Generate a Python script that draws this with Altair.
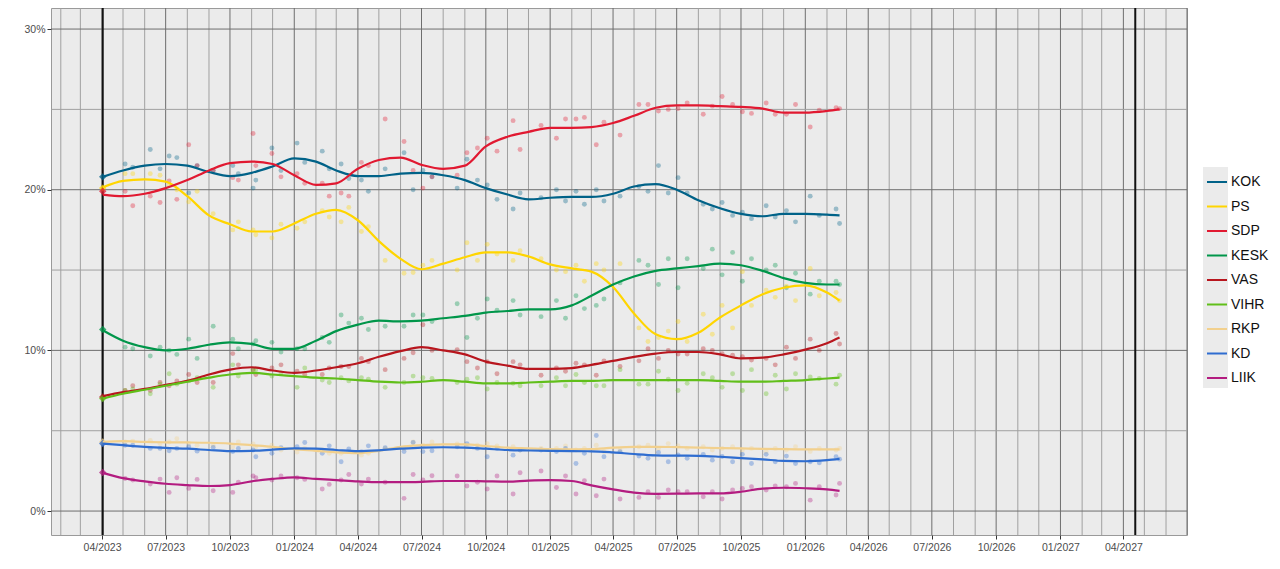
import altair as alt
import pandas as pd

parties = ["KOK", "PS", "SDP", "KESK", "VAS", "VIHR", "RKP", "KD", "LIIK"]
colors = ["#006288", "#ffd500", "#e11931", "#00964a", "#b8161e", "#61bf1a", "#f2d08d", "#2f6dd0", "#b31c80"]

election_dates = ["2023-04-02", "2027-04-18"]
election_result = [20.8, 20.1, 19.9, 11.3, 7.1, 7.0, 4.3, 4.2, 2.4]

poll_dates = [
    "2023-05-04", "2023-05-15", "2023-06-09", "2023-06-23", "2023-07-06", "2023-07-17", "2023-08-03", "2023-08-15",
    "2023-09-07", "2023-10-05", "2023-10-13", "2023-11-03", "2023-11-07", "2023-11-30", "2023-12-13",
    "2024-01-05", "2024-01-16", "2024-02-10", "2024-02-20", "2024-03-08", "2024-03-19", "2024-04-06", "2024-04-16",
    "2024-05-10", "2024-06-06", "2024-06-19", "2024-07-03", "2024-07-16", "2024-08-21", "2024-09-04", "2024-09-19",
    "2024-10-03", "2024-10-17", "2024-11-09", "2024-11-19", "2024-12-19",
    "2025-01-10", "2025-01-23", "2025-02-07", "2025-02-19", "2025-03-08", "2025-03-19", "2025-04-11", "2025-05-08",
    "2025-05-21", "2025-06-05", "2025-06-19", "2025-07-03", "2025-07-16", "2025-08-08", "2025-08-21", "2025-09-04",
    "2025-09-19", "2025-10-03", "2025-10-16", "2025-11-06", "2025-11-19", "2025-12-05", "2025-12-18",
    "2026-01-08", "2026-01-21", "2026-02-14", "2026-02-19",
]

poll_KOK = [21.6, 21.4, 22.5, 21.3, 22.1, 22.0, 19.8, 21.5, 21.2, 21.5, 21.0, 20.1, 20.6, 22.6, 21.2,
            22.9, 21.7, 22.4, 21.3, 21.6, 20.7, 20.6, 19.9, 21.3, 22.3, 20.0, 21.2, 20.8, 20.1, 21.9, 20.6, 20.3, 19.4, 18.8, 19.8, 19.5,
            20.0, 19.3, 19.9, 19.1, 20.0, 19.3, 19.6, 20.2, 19.9, 21.5, 19.8, 20.75, 19.8, 19.1, 18.8, 19.2, 18.4, 18.6, 18.2, 19.0, 18.3, 18.7, 18.0,
            19.6, 18.4, 18.8, 17.9]
poll_SDP = [19.9, 19.0, 19.6, 19.2, 20.55, 19.4, 22.8, 21.5, 21.2, 20.75, 20.6, 23.5, 21.5, 22.25, 20.8,
            21.0, 20.4, 20.4, 19.6, 19.8, 19.6, 21.7, 21.5, 24.4, 23.0, 21.2, 20.1, 20.8, 20.9, 22.3, 22.6, 23.2, 22.4, 24.3, 22.5, 24.0,
            23.2, 24.4, 24.4, 24.5, 22.8, 24.2, 23.4, 25.3, 25.3, 24.9, 25.0, 25.05, 25.4, 24.7, 25.2, 25.8, 25.3, 24.85, 24.75, 25.4, 24.7, 24.7, 25.3,
            23.9, 24.95, 25.1, 25.05]
poll_PS = [21.0, 21.0, 21.0, 20.9, 20.3, 20.0, 19.25, 19.9, 18.5, 17.5, 18.0, 17.5, 17.2, 17.0, 17.85,
           17.6, 18.0, 18.7, 18.3, 18.0, 18.9, 17.4, 17.7, 15.6, 14.8, 14.85, 15.3, 15.6, 15.0, 16.7, 15.6, 16.6, 16.0, 15.6, 16.2, 15.7,
           15.0, 14.9, 15.3, 14.3, 15.4, 15.0, 15.4, 11.4, 10.55, 10.8, 11.2, 11.8, 10.55, 12.25, 11.0, 12.8, 11.4, 14.9, 12.8, 13.75, 13.3, 14.0, 13.1,
           15.1, 13.4, 13.6, 13.1]
poll_KESK = [10.2, 10.1, 9.65, 10.2, 10.0, 9.75, 10.7, 9.5, 11.5, 10.7, 10.1, 10.4, 10.6, 10.5, 9.9,
             10.1, 10.1, 10.8, 10.5, 12.2, 11.7, 12.0, 11.3, 11.5, 11.5, 12.2, 12.2, 11.8, 12.9, 10.8, 12.0, 13.2, 12.5, 13.1, 12.2, 12.1,
             13.1, 12.0, 13.4, 12.6, 12.8, 13.2, 14.2, 15.6, 15.3, 14.1, 15.7, 13.9, 15.7, 15.1, 16.3, 14.7, 16.1, 14.3, 15.7, 15.0, 15.3, 13.9, 14.8,
             13.5, 14.3, 14.3, 14.1]
poll_VAS = [7.5, 7.8, 7.5, 8.0, 7.8, 8.1, 8.5, 8.0, 8.0, 9.8, 9.1, 8.8, 8.5, 8.9, 9.1,
            8.7, 8.5, 8.5, 8.9, 9.0, 9.0, 9.5, 9.3, 8.8, 9.5, 9.85, 11.6, 10.0, 10.05, 9.3, 8.9, 9.3, 8.55, 9.3, 9.1, 8.45,
            8.9, 8.7, 9.2, 9.1, 8.45, 9.35, 9.0, 9.35, 10.1, 9.5, 10.0, 9.77, 9.77, 10.1, 10.0, 9.8, 9.7, 9.6, 9.4, 9.5, 9.1, 10.2, 9.5,
            10.7, 10.0, 11.05, 10.4]
poll_VIHR = [7.5, 7.6, 7.3, 7.9, 8.55, 7.9, 8.1, 8.3, 7.7, 9.1, 8.4, 8.8, 8.8, 8.4, 8.6,
             7.7, 8.9, 8.15, 8.0, 8.3, 8.1, 8.3, 8.2, 7.7, 8.0, 8.4, 8.3, 8.25, 8.0, 8.2, 8.3, 7.6, 8.0, 7.95, 7.8, 7.8,
             8.3, 7.8, 8.5, 8.0, 7.8, 7.8, 8.8, 7.9, 7.9, 8.7, 8.2, 7.5, 7.95, 8.55, 8.3, 7.7, 8.55, 7.5, 8.8, 7.3, 8.45, 7.6, 8.55,
             8.35, 8.25, 7.9, 8.45]
poll_RKP = [4.3, 4.35, 4.4, 4.2, 4.3, 4.5, 4.2, 4.1, 4.1, 4.0, 4.3, 4.17, 4.0, 4.1, 3.8,
            3.67, 3.9, 3.8, 3.6, 3.6, 3.7, 3.48, 3.6, 3.9, 3.9, 4.3, 4.1, 4.3, 4.17, 4.0, 4.1, 4.2, 4.05, 4.0, 3.8, 3.9,
            3.9, 4.06, 3.8, 3.9, 4.1, 3.7, 3.8, 4.0, 4.1, 3.9, 4.2, 4.05, 3.9, 4.0, 3.8, 3.9, 4.0, 3.8, 3.9, 3.7, 3.9, 3.8, 4.0,
            3.7, 3.9, 3.8, 3.9]
poll_KD = [4.1, 4.1, 3.9, 3.9, 3.75, 3.9, 4.0, 3.73, 3.96, 3.7, 3.9, 3.8, 3.38, 3.6, 3.95,
           4.0, 4.27, 3.6, 4.06, 3.07, 3.86, 3.7, 4.06, 3.94, 3.7, 4.27, 3.7, 3.75, 4.0, 4.2, 3.9, 3.38, 3.9, 3.48, 3.8, 3.8,
           3.7, 3.9, 2.96, 3.6, 4.7, 3.38, 3.7, 3.42, 3.28, 3.65, 3.07, 3.5, 3.28, 3.53, 3.17, 3.4, 3.07, 3.53, 2.96, 3.53, 3.07, 3.42, 2.96,
           3.07, 3.0, 3.38, 3.23]
poll_LIIK = [2.03, 1.93, 1.68, 1.99, 1.16, 2.07, 1.41, 1.97, 1.26, 1.16, 1.79, 2.18, 2.07, 1.93, 2.18,
             2.07, 1.97, 1.37, 1.66, 1.93, 2.28, 1.68, 1.99, 1.79, 0.79, 2.28, 1.93, 2.2, 2.18, 1.56, 1.79, 1.37, 2.18, 1.06, 2.38, 2.49,
             1.47, 2.18, 1.06, 1.89, 0.95, 1.99, 0.75, 0.85, 1.2, 0.85, 1.31, 1.2, 1.2, 0.89, 1.2, 0.75, 1.31, 1.4, 1.51, 1.31, 1.56, 1.51, 1.72,
             0.68, 1.51, 1.0, 1.72]

# smoothed trend: election day, first day of each month May 2023 - Feb 2026, last poll day
trend_dates = (["2023-04-02"]
               + [d.strftime("%Y-%m-%d") for d in pd.date_range("2023-05-01", "2026-02-01", freq="MS")]
               + ["2026-02-19"])
trend_KOK = [20.8, 21.2, 21.5, 21.6, 21.5, 21.1, 20.85, 21.05, 21.45,
             21.95, 21.75, 21.2, 20.85, 20.85, 21.0, 21.05, 20.9, 20.6, 20.1, 19.7, 19.4,
             19.5, 19.55, 19.55, 19.75, 20.2, 20.35, 20.0, 19.35, 18.85, 18.5, 18.35, 18.5,
             18.5, 18.45, 18.4]
trend_SDP = [19.7, 19.6, 19.75, 20.1, 20.6, 21.2, 21.65, 21.75, 21.6,
             20.9, 20.3, 20.4, 21.3, 21.85, 22.0, 21.55, 21.3, 21.5, 22.7, 23.3, 23.6,
             23.85, 23.85, 23.9, 24.15, 24.6, 25.1, 25.25, 25.25, 25.2, 25.15, 25.05, 24.8,
             24.8, 24.9, 25.0]
trend_PS = [20.15, 20.55, 20.65, 20.5, 19.6, 18.4, 17.85, 17.4, 17.4,
            17.9, 18.5, 18.75, 18.1, 16.8, 15.7, 15.05, 15.4, 15.8, 16.1, 16.1, 15.85,
            15.35, 15.1, 14.9, 13.95, 12.3, 11.0, 10.7, 11.1, 12.05, 12.8, 13.5, 13.9,
            14.05, 13.6, 13.1]
trend_KESK = [11.25, 10.6, 10.2, 10.0, 10.1, 10.35, 10.5, 10.4, 10.1,
              10.1, 10.6, 11.2, 11.6, 11.85, 11.8, 11.85, 12.0, 12.15, 12.35, 12.45, 12.55,
              12.55, 12.8, 13.4, 14.1, 14.6, 14.95, 15.1, 15.25, 15.4, 15.3, 14.95, 14.5,
              14.2, 14.1, 14.1]
trend_VAS = [7.15, 7.4, 7.6, 7.85, 8.1, 8.5, 8.8, 8.95, 8.75,
             8.6, 8.75, 8.95, 9.2, 9.6, 9.95, 10.2, 10.0, 9.75, 9.3, 9.05, 8.85,
             8.85, 8.9, 9.1, 9.35, 9.6, 9.8, 9.9, 9.9, 9.75, 9.5, 9.55, 9.75,
             10.05, 10.45, 10.8]
trend_VIHR = [7.0, 7.3, 7.55, 7.8, 8.05, 8.3, 8.5, 8.6, 8.5,
              8.4, 8.3, 8.25, 8.15, 8.05, 8.0, 8.05, 8.15, 8.05, 7.95, 7.95, 8.0,
              8.05, 8.1, 8.1, 8.15, 8.15, 8.15, 8.15, 8.15, 8.1, 8.05, 8.05, 8.1,
              8.15, 8.25, 8.3]
trend_RKP = [4.3, 4.35, 4.3, 4.28, 4.27, 4.25, 4.2, 4.1, 4.0,
             3.85, 3.75, 3.65, 3.6, 3.75, 4.0, 4.1, 4.15, 4.15, 4.05, 3.95, 3.9,
             3.85, 3.84, 3.85, 3.95, 4.0, 4.0, 3.98, 3.95, 3.92, 3.9, 3.87, 3.85,
             3.84, 3.84, 3.84]
trend_KD = [4.2, 4.1, 4.0, 3.93, 3.88, 3.8, 3.73, 3.75, 3.82,
            3.9, 3.88, 3.8, 3.73, 3.78, 3.88, 3.95, 3.97, 3.95, 3.88, 3.8, 3.77,
            3.75, 3.73, 3.72, 3.65, 3.55, 3.47, 3.45, 3.44, 3.38, 3.3, 3.22, 3.12,
            3.1, 3.17, 3.25]
trend_LIIK = [2.38, 2.05, 1.85, 1.7, 1.62, 1.56, 1.62, 1.85, 2.0,
              2.1, 2.0, 1.93, 1.85, 1.8, 1.8, 1.82, 1.87, 1.87, 1.85, 1.83, 1.9,
              1.93, 1.87, 1.6, 1.35, 1.15, 1.07, 1.08, 1.1, 1.1, 1.2, 1.4, 1.45,
              1.42, 1.35, 1.26]

polls = {"KOK": poll_KOK, "PS": poll_PS, "SDP": poll_SDP, "KESK": poll_KESK, "VAS": poll_VAS,
         "VIHR": poll_VIHR, "RKP": poll_RKP, "KD": poll_KD, "LIIK": poll_LIIK}
trends = {"KOK": trend_KOK, "PS": trend_PS, "SDP": trend_SDP, "KESK": trend_KESK, "VAS": trend_VAS,
          "VIHR": trend_VIHR, "RKP": trend_RKP, "KD": trend_KD, "LIIK": trend_LIIK}

poll_rows = []
trend_rows = []
for p in parties:
    for d, v in zip(poll_dates, polls[p]):
        poll_rows.append({"date": d, "value": v, "party": p})
    for d, v in zip(trend_dates, trends[p]):
        trend_rows.append({"date": d, "value": v, "party": p})
poll_df = pd.DataFrame(poll_rows)
trend_df = pd.DataFrame(trend_rows)
res_df = pd.DataFrame({"date": election_dates[0], "value": election_result, "party": parties})

months = pd.date_range("2023-02-01", "2027-07-01", freq="MS")
grid_df = pd.DataFrame({"date": [d.strftime("%Y-%m-%d") for d in months],
                        "major": [d.month in (1, 4, 7, 10) for d in months]})
hgrid_df = pd.DataFrame({"v": [0, 5, 10, 15, 20, 25, 30], "major": [True, False, True, False, True, False, True]})
elec_df = pd.DataFrame({"date": election_dates})

W, H = 1136, 527
xscale = alt.Scale(type="utc", domain=[alt.DateTime(year=2023, month=1, date=18, utc=True),
                                       alt.DateTime(year=2027, month=7, date=1, utc=True)], nice=False)
yscale = alt.Scale(domain=[-1.49, 31.31], nice=False, zero=False)
cscale = alt.Scale(domain=parties, range=colors)

quarter_ticks = [alt.DateTime(year=y, month=m, date=1, utc=True)
                 for y in range(2023, 2028) for m in (1, 4, 7, 10)
                 if (y, m) >= (2023, 4) and (y, m) <= (2027, 4)]

xaxis = alt.Axis(values=quarter_ticks, labelExpr="utcFormat(datum.value, '%m/%Y')", title=None, grid=False,
                 domain=False, tickSize=4, tickColor="#333333", labelPadding=3)
yaxis = alt.Axis(values=[0, 10, 20, 30], labelExpr="datum.value + '%'", title=None, grid=False,
                 domain=False, tickSize=4, tickColor="#333333", labelPadding=2)
legend = alt.Legend(title=None, orient="none", legendX=1155, legendY=163,
                    symbolType="stroke", symbolSize=400, symbolStrokeWidth=2, symbolOpacity=1,
                    labelFontSize=14, labelColor="#111111", labelOffset=3,
                    rowPadding=6.5, padding=0, labelFont="Liberation Sans")

X = alt.X("date:T", scale=xscale, axis=xaxis)
Y = alt.Y("value:Q", scale=yscale, axis=yaxis)
C = alt.Color("party:N", scale=cscale, sort=parties, legend=legend)

vgrid = alt.Chart(grid_df).mark_rule(strokeWidth=1).encode(
    x=X,
    color=alt.condition("datum.major", alt.value("#6e6e6e"), alt.value("#a0a0a0")),
)
hgrid = alt.Chart(hgrid_df).mark_rule(strokeWidth=1).encode(
    y=alt.Y("v:Q", scale=yscale, axis=yaxis),
    color=alt.condition("datum.major", alt.value("#6e6e6e"), alt.value("#a0a0a0")),
)
erules = alt.Chart(elec_df).mark_rule(strokeWidth=2, color="#111111").encode(x=X)
points = alt.Chart(poll_df).mark_circle(size=24, opacity=0.35).encode(x=X, y=Y, color=C)
result = alt.Chart(res_df).mark_point(shape="diamond", filled=True, size=55, opacity=0.75).encode(x=X, y=Y, color=C)
lines = alt.Chart(trend_df).mark_line(strokeWidth=2.2, interpolate="monotone").encode(
    x=X, y=Y, color=C, detail="party:N"
)
keybox = alt.Chart(alt.Data(values=[{}])).mark_rect(color="#ebebeb").encode(
    x=alt.value(1152), x2=alt.value(1177), y=alt.value(159), y2=alt.value(380)
)

chart = alt.layer(vgrid, hgrid, erules, keybox, points, result, lines).properties(
    width=W, height=H,
    autosize=alt.AutoSizeParams(type="none"),
    padding={"left": 43, "top": 0, "right": 85, "bottom": 30},
    background="white",
).configure_view(fill="#ebebeb", stroke="#9a9a9a").configure_axis(
    labelFont="Liberation Sans", labelFontSize=10.5, labelColor="#4d4d4d"
)

chart.save("out.html", embed_options={"renderer": "svg", "actions": False})
